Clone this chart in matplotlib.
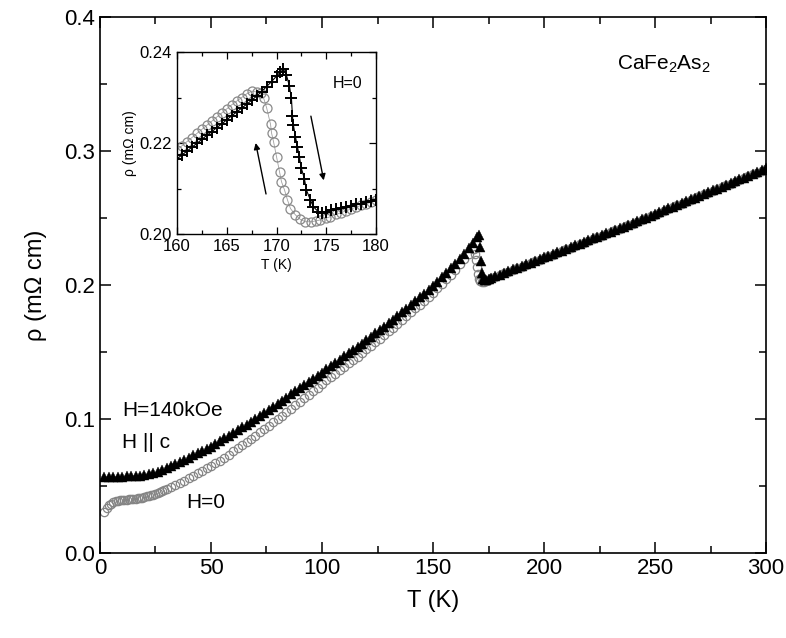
import matplotlib.pyplot as plt

plt.rcParams['font.family'] = ['Liberation Sans', 'DejaVu Sans']
plt.rcParams['mathtext.fontset'] = 'custom'
plt.rcParams['mathtext.rm'] = 'Liberation Sans'
plt.rcParams['mathtext.it'] = 'Liberation Sans:italic'

# --- main panel: rho(T), H = 140 kOe (H || c) ---
T_140 = [2, 4, 6, 8, 10, 12, 14, 16, 18, 20, 22, 24, 26, 28, 30, 32, 34, 36, 38, 40,
         42, 44, 46, 48, 50, 52, 54, 56, 58, 60, 62, 64, 66, 68, 70, 72, 74, 76, 78, 80,
         82, 84, 86, 88, 90, 92, 94, 96, 98, 100, 102, 104, 106, 108, 110, 112, 114, 116,
         118, 120, 122, 124, 126, 128, 130, 132, 134, 136, 138, 140, 142, 144, 146, 148,
         150, 152, 154, 156, 158, 160, 162, 164, 166, 168, 170, 170.8,
         171.3, 171.7, 172.1, 172.6, 173.3, 174.0, 175.0]
rho_140 = [0.0570, 0.0570, 0.0570, 0.0570, 0.0570, 0.0571, 0.0573, 0.0575, 0.0578, 0.0582,
           0.0588, 0.0596, 0.0606, 0.0618, 0.0632, 0.0648, 0.0664, 0.0680, 0.0696, 0.0712,
           0.0728, 0.0744, 0.0760, 0.0776, 0.0792, 0.0813, 0.0834, 0.0855, 0.0875, 0.0896,
           0.0917, 0.0938, 0.0959, 0.0980, 0.1001, 0.1023, 0.1045, 0.1068, 0.1091, 0.1114,
           0.1137, 0.1160, 0.1183, 0.1206, 0.1229, 0.1252, 0.1275, 0.1299, 0.1323, 0.1347,
           0.1371, 0.1395, 0.1419, 0.1443, 0.1467, 0.1491, 0.1515, 0.1539, 0.1563, 0.1590,
           0.1615, 0.1640, 0.1665, 0.1690, 0.1716, 0.1742, 0.1769, 0.1796, 0.1823, 0.1851,
           0.1879, 0.1907, 0.1936, 0.1965, 0.1994, 0.2026, 0.2058, 0.2091, 0.2125, 0.2160,
           0.2197, 0.2235, 0.2274, 0.2314, 0.2355, 0.2375,
           0.2280, 0.2180, 0.2090, 0.2045, 0.2035, 0.2040, 0.2048]

# --- main panel: rho(T), H = 0 ---
T_0 = [2, 3, 4, 5, 6, 7, 8, 9, 10, 11, 12, 13, 14, 15, 16, 17, 18, 19, 20, 21, 22, 23,
       24, 25, 26, 27, 28, 29, 30, 32, 34, 36, 38, 40, 42, 44, 46, 48, 50, 52, 54, 56,
       58, 60, 62, 64, 66, 68, 70, 72, 74, 76, 78, 80, 82, 84, 86, 88, 90, 92, 94, 96,
       98, 100, 102, 104, 106, 108, 110, 112, 114, 116, 118, 120, 122, 124, 126, 128,
       130, 132, 134, 136, 138, 140, 142, 144, 146, 148, 150, 152, 154, 156, 158, 160,
       162, 164, 166, 168, 168.5, 169.0, 169.4, 169.8, 170.2, 170.7, 171.3, 172.0,
       173.0, 174.0, 175.0]
rho_0 = [0.0305, 0.0335, 0.0355, 0.0368, 0.0378, 0.0385, 0.0390, 0.0393, 0.0395, 0.0397,
         0.0398, 0.0400, 0.0402, 0.0404, 0.0406, 0.0408, 0.0411, 0.0414, 0.0418, 0.0422,
         0.0426, 0.0431, 0.0436, 0.0441, 0.0447, 0.0453, 0.0460, 0.0467, 0.0474, 0.0489,
         0.0505, 0.0522, 0.0540, 0.0558, 0.0577, 0.0596, 0.0614, 0.0631, 0.0648, 0.0668,
         0.0689, 0.0711, 0.0734, 0.0758, 0.0782, 0.0806, 0.0830, 0.0853, 0.0876, 0.0900,
         0.0924, 0.0949, 0.0974, 0.0999, 0.1025, 0.1051, 0.1077, 0.1103, 0.1129, 0.1155,
         0.1181, 0.1208, 0.1235, 0.1262, 0.1288, 0.1313, 0.1339, 0.1364, 0.1390, 0.1415,
         0.1441, 0.1466, 0.1492, 0.1520, 0.1546, 0.1573, 0.1599, 0.1626, 0.1653, 0.1681,
         0.1709, 0.1738, 0.1766, 0.1796, 0.1825, 0.1853, 0.1883, 0.1913, 0.1943, 0.1975,
         0.2008, 0.2042, 0.2077, 0.2115, 0.2153, 0.2192, 0.2232, 0.2270, 0.2268, 0.2235,
         0.2185, 0.2135, 0.2085, 0.2048, 0.2031, 0.2025, 0.2026, 0.2031, 0.2039]

# above the transition both field values lie on the same line
T_high = [176, 178, 180, 182, 184, 186, 188, 190, 192, 194, 196, 198, 200, 202, 204, 206,
          208, 210, 212, 214, 216, 218, 220, 222, 224, 226, 228, 230, 232, 234, 236, 238,
          240, 242, 244, 246, 248, 250, 252, 254, 256, 258, 260, 262, 264, 266, 268, 270,
          272, 274, 276, 278, 280, 282, 284, 286, 288, 290, 292, 294, 296, 298, 300]
rho_140_high = [0.2055, 0.2066, 0.2078, 0.2090, 0.2103, 0.2116, 0.2129, 0.2142, 0.2155,
                0.2167, 0.2180, 0.2193, 0.2206, 0.2219, 0.2231, 0.2244, 0.2257, 0.2270,
                0.2283, 0.2295, 0.2308, 0.2321, 0.2334, 0.2347, 0.2359, 0.2372, 0.2385,
                0.2398, 0.2411, 0.2423, 0.2436, 0.2449, 0.2462, 0.2476, 0.2489, 0.2503,
                0.2516, 0.2530, 0.2544, 0.2557, 0.2571, 0.2584, 0.2598, 0.2612, 0.2625,
                0.2639, 0.2652, 0.2666, 0.2680, 0.2693, 0.2707, 0.2720, 0.2734, 0.2748,
                0.2761, 0.2775, 0.2788, 0.2802, 0.2816, 0.2829, 0.2843, 0.2856, 0.2870]
rho_0_high = [0.2051, 0.2062, 0.2074, 0.2086, 0.2099, 0.2112, 0.2125, 0.2138, 0.2151,
              0.2163, 0.2176, 0.2189, 0.2202, 0.2215, 0.2227, 0.2240, 0.2253, 0.2266,
              0.2279, 0.2291, 0.2304, 0.2317, 0.2330, 0.2343, 0.2355, 0.2368, 0.2381,
              0.2394, 0.2407, 0.2419, 0.2432, 0.2445, 0.2458, 0.2472, 0.2485, 0.2499,
              0.2512, 0.2526, 0.2540, 0.2553, 0.2567, 0.2580, 0.2594, 0.2608, 0.2621,
              0.2635, 0.2648, 0.2662, 0.2676, 0.2689, 0.2703, 0.2716, 0.2730, 0.2744,
              0.2757, 0.2771, 0.2784, 0.2798, 0.2812, 0.2825, 0.2839, 0.2852, 0.2866]

# --- inset: H = 0, warming (+) and cooling (o) through the transition ---
T_warm = [160, 160.5, 161, 161.5, 162, 162.5, 163, 163.5, 164, 164.5, 165, 165.5, 166,
          166.5, 167, 167.5, 168, 168.5, 169, 169.5, 170, 170.4, 170.7, 171.0, 171.3,
          171.5, 171.6, 171.7, 171.9, 172.1, 172.3, 172.5, 172.8, 173.0, 173.4, 173.7,
          174.2, 174.6, 175.0, 175.5, 176, 176.5, 177, 177.5, 178, 178.5, 179, 179.5, 180]
rho_warm = [0.2165, 0.2174, 0.2182, 0.2191, 0.2199, 0.2208, 0.2217, 0.2225, 0.2234,
            0.2242, 0.2251, 0.2260, 0.2268, 0.2277, 0.2285, 0.2294, 0.2303, 0.2313,
            0.2324, 0.2335, 0.2347, 0.2356, 0.2362, 0.2349, 0.2325, 0.2298, 0.2260,
            0.2239, 0.2214, 0.2192, 0.2170, 0.2144, 0.2122, 0.2097, 0.2075, 0.2060,
            0.2049, 0.2047, 0.2049, 0.2052, 0.2054, 0.2057, 0.2059, 0.2062, 0.2065,
            0.2067, 0.2070, 0.2072, 0.2075]
T_cool = [160, 160.5, 161, 161.5, 162, 162.5, 163, 163.5, 164, 164.5, 165, 165.5, 166,
          166.5, 167, 167.5, 168, 168.4, 168.7, 169.0, 169.4, 169.5, 169.7, 170.0, 170.3,
          170.5, 170.8, 171.1, 171.4, 171.9, 172.4, 172.9, 173.5, 174.0, 174.4, 175.0,
          175.4, 176, 176.5, 177, 177.5, 178, 178.5, 179, 179.5, 180]
rho_cool = [0.2185, 0.2194, 0.2203, 0.2212, 0.2221, 0.2230, 0.2239, 0.2248, 0.2257,
            0.2266, 0.2275, 0.2284, 0.2292, 0.2300, 0.2308, 0.2314, 0.2312, 0.2310,
            0.2299, 0.2278, 0.2241, 0.2222, 0.2203, 0.2170, 0.2137, 0.2115, 0.2097,
            0.2075, 0.2056, 0.2042, 0.2032, 0.2027, 0.2027, 0.2029, 0.2031, 0.2035,
            0.2038, 0.2043, 0.2047, 0.2051, 0.2055, 0.2059, 0.2063, 0.2066, 0.2070, 0.2074]

fig = plt.figure(figsize=(7.86, 6.38), dpi=100)
ax = fig.add_axes([0.1272, 0.1332, 0.8474, 0.8402])

circ = dict(marker='o', ls='none', ms=6, mfc='none', mec='#858585', mew=0.9)
tri = dict(marker='^', ls='none', ms=6.5, color='black', mew=0.3)
ax.plot(T_0, rho_0, **circ)
ax.plot(T_high, rho_0_high, **circ)
ax.plot(T_140, rho_140, **tri)
ax.plot(T_high, rho_140_high, **tri)

ax.set_xlim(0, 300)
ax.set_ylim(0.0, 0.4)
ax.set_xticks([0, 50, 100, 150, 200, 250, 300])
ax.set_xticks([25, 75, 125, 175, 225, 275], minor=True)
ax.set_yticks([0.0, 0.1, 0.2, 0.3, 0.4])
ax.set_yticks([0.05, 0.15, 0.25, 0.35], minor=True)
ax.set_yticklabels(['0.0', '0.1', '0.2', '0.3', '0.4'])
ax.tick_params(which='both', direction='in', top=True, right=True, labelsize=16, width=1.1)
ax.tick_params(which='major', length=8)
ax.tick_params(which='minor', length=5)
for s in ax.spines.values():
    s.set_linewidth(1.2)
ax.set_xlabel('T (K)', fontsize=17, labelpad=8)
ax.set_ylabel('ρ (mΩ cm)', fontsize=17, labelpad=12)

ax.text(10, 0.1065, 'H=140kOe', fontsize=15, va='center')
ax.text(10, 0.0825, 'H || c', fontsize=15, va='center')
ax.text(39, 0.0375, 'H=0', fontsize=15, va='center')
ax.text(233, 0.365, 'CaFe$_2$As$_2$', fontsize=15, va='center')

# inset
ins = fig.add_axes([0.2252, 0.6332, 0.2532, 0.2853])
ins.plot(T_cool, rho_cool, color='#a0a0a0', lw=0.6, marker='o', ms=6.5, mfc='none',
         mec='#8a8a8a', mew=0.9)
ins.plot(T_warm, rho_warm, color='black', lw=0.8, marker='+', ms=8, mew=1.4)
ins.set_xlim(160, 180)
ins.set_ylim(0.20, 0.24)
ins.set_xticks([160, 165, 170, 175, 180])
ins.set_xticks([162.5, 167.5, 172.5, 177.5], minor=True)
ins.set_yticks([0.20, 0.22, 0.24])
ins.set_yticks([0.21, 0.23], minor=True)
ins.set_yticklabels(['0.20', '0.22', '0.24'])
ins.tick_params(which='both', direction='in', top=True, right=True, labelsize=12, width=0.9)
ins.tick_params(which='major', length=5)
ins.tick_params(which='minor', length=3)
for s in ins.spines.values():
    s.set_linewidth(1.0)
ins.set_xlabel('T (K)', fontsize=10, labelpad=3)
ins.set_ylabel('ρ (mΩ cm)', fontsize=10, labelpad=2)
ins.text(175.7, 0.233, 'H=0', fontsize=11.5, va='center')

arrow = dict(arrowstyle='-|>', color='black', lw=1.0, mutation_scale=9)
ins.annotate('', xy=(167.85, 0.2206), xytext=(169.0, 0.2082), arrowprops=arrow)
ins.annotate('', xy=(174.8, 0.2112), xytext=(173.4, 0.2265), arrowprops=arrow)

fig.savefig('out.png', dpi=100)
